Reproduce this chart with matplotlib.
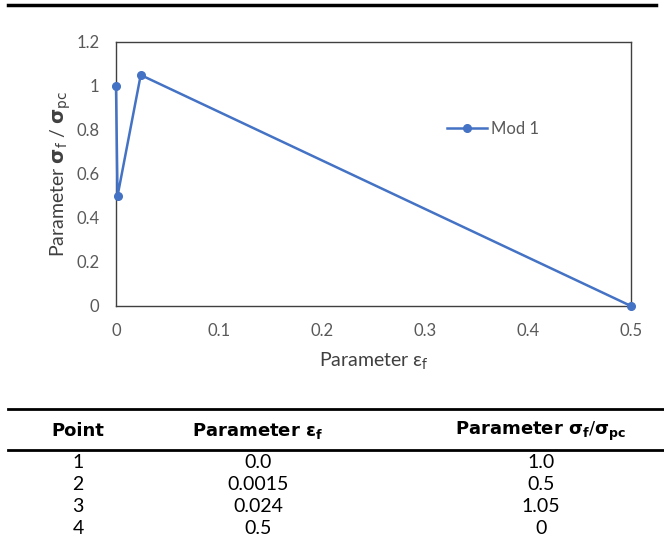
import matplotlib
matplotlib.use("Agg")
import matplotlib.pyplot as plt
from matplotlib.lines import Line2D

plt.rcParams['font.family'] = ['Lato', 'DejaVu Sans']
plt.rcParams['mathtext.fontset'] = 'dejavusans'

# data
points = [1, 2, 3, 4]
strain = [0.0, 0.0015, 0.024, 0.5]
stress = [1.0, 0.5, 1.05, 0.0]
strain_txt = ['0.0', '0.0015', '0.024', '0.5']
stress_txt = ['1.0', '0.5', '1.05', '0']
xticks = [0, 0.1, 0.2, 0.3, 0.4, 0.5]
yticks = [0, 0.2, 0.4, 0.6, 0.8, 1.0, 1.2]

W, H = 664, 552
fig = plt.figure(figsize=(W / 100, H / 100), dpi=100)

def fx(px):
    return px / W

def fy(py):
    return 1 - py / H

ax = fig.add_axes([fx(116), fy(306), fx(631) - fx(116), fy(42) - fy(306)])
ax.plot(strain, stress, color='#4472C4', lw=1.8, marker='o', ms=5.5,
        label='Mod 1', clip_on=False, zorder=3)
ax.set_xlim(0, 0.5)
ax.set_ylim(0, 1.2)
ax.set_xticks(xticks)
ax.set_xticklabels(['0', '0.1', '0.2', '0.3', '0.4', '0.5'])
ax.set_yticks(yticks)
ax.set_yticklabels(['0', '0.2', '0.4', '0.6', '0.8', '1', '1.2'])
ax.tick_params(length=0, labelsize=12, labelcolor='#595959')
ax.tick_params(axis='x', pad=12)
ax.tick_params(axis='y', pad=12)
for s in ax.spines.values():
    s.set_color('#404040')
    s.set_linewidth(1.0)
ax.set_xlabel(r'Parameter ε$_\mathrm{f}$', fontsize=14, color='#404040', labelpad=9)
ax.set_ylabel(r'Parameter $\mathbf{σ}_\mathrm{f}$ / $\mathbf{σ}_\mathrm{pc}$',
              fontsize=14, color='#404040', labelpad=2)
leg = ax.legend(loc='center left', bbox_to_anchor=((432 - 116) / (631 - 116), (306 - 129) / (306 - 42)),
                frameon=False, fontsize=12, handlelength=2.4, handletextpad=0.25)
for t in leg.get_texts():
    t.set_color('#595959')

# rules
fig.add_artist(Line2D([fx(8), fx(656)], [fy(5), fy(5)], color='black', lw=2.5))
fig.add_artist(Line2D([fx(8), fx(664)], [fy(409), fy(409)], color='black', lw=2.0))
fig.add_artist(Line2D([fx(8), fx(664)], [fy(450), fy(450)], color='black', lw=2.0))

# table
cols = [78, 258, 541]
hdr = dict(ha='center', va='center', fontsize=13, fontweight='bold', family='DejaVu Sans')
fig.text(fx(cols[0]), fy(431), 'Point', **hdr)
fig.text(fx(cols[1]), fy(431), r'Parameter ε$_\mathbf{f}$', **hdr)
fig.text(fx(cols[2]), fy(431), r'Parameter $\mathbf{σ}_\mathbf{f}/\mathbf{σ}_\mathbf{pc}$', **hdr)
row_y = [462, 484, 506, 528]
for i in range(len(points)):
    fig.text(fx(cols[0]), fy(row_y[i]), str(points[i]), ha='center', va='center', fontsize=14)
    fig.text(fx(cols[1]), fy(row_y[i]), strain_txt[i], ha='center', va='center', fontsize=14)
    fig.text(fx(cols[2]), fy(row_y[i]), stress_txt[i], ha='center', va='center', fontsize=14)

fig.savefig('out.png', dpi=100)
